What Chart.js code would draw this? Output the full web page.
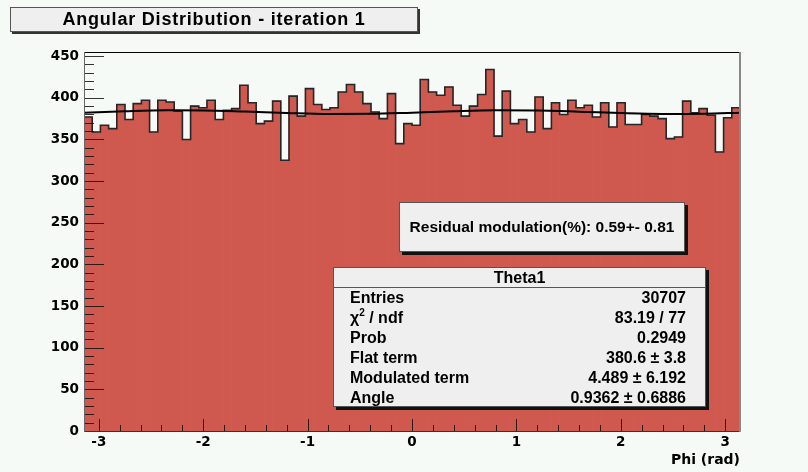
<!DOCTYPE html>
<html>
<head>
<meta charset="utf-8">
<script src="https://cdn.jsdelivr.net/npm/chart.js@4/dist/chart.umd.min.js"></script>
<style>
  html, body { margin:0; padding:0; background:#f5faf7; }
  #wrap { position:relative; width:808px; height:472px; overflow:hidden; }
  #c { position:absolute; left:0; top:0; }
  .box { position:absolute; background:#efefef; border:1px solid #555; box-sizing:border-box;
         font-family:"Liberation Sans", Arial, sans-serif; font-weight:bold; color:#000; }
  #title { left:10px; top:7px; width:408px; height:25px; line-height:23px; text-align:center;
           font-size:18px; letter-spacing:0.8px; box-shadow:2px 2px 0 #333; }
  #resid { left:399px; top:202px; width:286px; height:50px; line-height:48px; text-align:center;
           font-size:15.5px; box-shadow:3px 3px 0 #111; }
  #stats { left:333px; top:267px; width:373px; height:140px; box-shadow:3px 3px 0 #111; font-size:16px; }
  #stats .hdr { height:20px; line-height:19px; text-align:center; border-bottom:1px solid #555; box-sizing:border-box; }
  #stats .row { height:20px; line-height:20px; padding:0 19px 0 16px; display:flex; justify-content:space-between; }
  #stats sup { font-size:10px; line-height:0; vertical-align:7px; }
</style>
</head>
<body>
<div id="wrap">
  <canvas id="c" width="808" height="472"></canvas>
  <div id="title" class="box">Angular Distribution - iteration 1</div>
  <div id="resid" class="box">Residual modulation(%): 0.59+- 0.81</div>
  <div id="stats" class="box"></div>
</div>
<script>
// ---- data ----
const binCounts = [
  377, 359, 367, 363, 392, 374, 393, 397, 359, 397,
  395, 384, 350, 390, 388, 397, 374, 385, 387, 415,
  394, 369, 372, 396, 325, 402, 378, 411, 392, 386,
  388, 407, 416, 407, 393, 383, 375, 405, 345, 369,
  367, 422, 407, 403, 413, 391, 378, 390, 404, 434,
  354, 408, 369, 374, 359, 401, 363, 394, 380, 397,
  388, 391, 377, 394, 365, 394, 368, 368, 380, 378,
  375, 351, 353, 396, 382, 387, 379, 335, 376, 388
];
const xRange = [-Math.PI, Math.PI];
const yRange = [0, 455];
const xMajorTicks = [-3, -2, -1, 0, 1, 2, 3];
const yMajorTicks = [0, 50, 100, 150, 200, 250, 300, 350, 400, 450];
const fitPhi    = [-3.14, -2.75, -2.36, -2.0, -1.6, -1.2, -0.8, -0.4, 0.0, 0.4, 0.8, 1.2, 1.6, 2.0, 2.4, 2.8, 3.14];
const fitValues = [382.2, 383.9, 385.0, 384.9, 383.6, 381.9, 380.7, 380.8, 382.2, 383.9, 385.0, 384.8, 383.4, 381.7, 380.7, 381.0, 382.2];
const statsTitle = 'Theta1';
const statsLabels = ['Entries', 'χ<sup>2</sup> / ndf', 'Prob', 'Flat term', 'Modulated term', 'Angle'];
const statsValues = ['30707', '83.19 / 77', '0.2949', '380.6 ± 3.8', '4.489 ± 6.192', '0.9362 ± 0.6886'];

// ---- stats box ----
const stats = document.getElementById('stats');
let html = '<div class="hdr">' + statsTitle + '</div>';
statsLabels.forEach((l, i) => { html += '<div class="row"><span>' + l + '</span><span>' + statsValues[i] + '</span></div>'; });
stats.innerHTML = html;

// ---- binning ----
const nBins = binCounts.length;
const binW = (xRange[1] - xRange[0]) / nBins;
const barData = binCounts.map((v, i) => ({ x: xRange[0] + (i + 0.5) * binW, y: v }));
const outlineData = [];
for (let i = 0; i <= nBins; i++) outlineData.push({ x: xRange[0] + i * binW, y: binCounts[Math.min(i, nBins - 1)] });
const fitData = fitPhi.map((p, i) => ({ x: p, y: fitValues[i] }));

const axisFont = { family: 'DejaVu Sans', weight: 'bold', size: 13.5 };

const frameTicks = {
  id: 'frameTicks',
  afterDatasetsDraw(chart) {
    const { ctx, chartArea: a, scales: { x, y } } = chart;
    ctx.save();
    const seg = (x1, y1, x2, y2) => { ctx.beginPath(); ctx.moveTo(x1, y1); ctx.lineTo(x2, y2); ctx.stroke(); };
    ctx.lineWidth = 1;
    ctx.strokeStyle = 'rgba(15,15,15,0.85)';
    // x ticks: majors at integers, 4 minors between
    for (let k = -20; k <= 20; k++) {
      const v = k * 0.2;
      if (v < xRange[0] || v > xRange[1]) continue;
      const px = Math.round(x.getPixelForValue(v)) + 0.5;
      const len = (k % 5 === 0) ? 12 : 6;
      seg(px, a.bottom, px, a.bottom - len);
    }
    // y ticks: majors every 50, minors every 10
    for (let v = 0; v <= yRange[1]; v += 10) {
      const py = Math.round(y.getPixelForValue(v)) + 0.5;
      const len = (v % 50 === 0) ? 20 : 10;
      seg(a.left, py, a.left + len, py);
    }
    // frame
    ctx.strokeStyle = '#000';
    seg(a.left, Math.round(a.top) + 0.5, a.right, Math.round(a.top) + 0.5);
    ctx.strokeStyle = '#333';
    seg(a.left, Math.round(a.bottom) + 0.5, a.right, Math.round(a.bottom) + 0.5);
    ctx.strokeStyle = '#666';
    seg(Math.round(a.left) + 0.5, a.top, Math.round(a.left) + 0.5, a.bottom + 1);
    ctx.strokeStyle = '#888'; ctx.lineWidth = 2;
    seg(Math.round(a.right), a.top, Math.round(a.right), a.bottom + 1);
    ctx.restore();
  }
};

new Chart(document.getElementById('c'), {
  type: 'bar',
  data: {
    datasets: [
      { type: 'line', label: 'fit', data: fitData, borderColor: '#000', borderWidth: 2,
        pointRadius: 0, fill: false, cubicInterpolationMode: 'monotone', order: 1 },
      { type: 'line', label: 'outline', data: outlineData, stepped: true, borderColor: '#262626',
        borderWidth: 1.6, pointRadius: 0, fill: false, order: 2 },
      { type: 'bar', label: 'Theta1', data: barData, backgroundColor: '#d0594f', borderWidth: 0,
        barPercentage: 1, categoryPercentage: 1, order: 3 }
    ]
  },
  options: {
    responsive: false,
    animation: false,
    events: [],
    layout: { padding: { top: 52, right: 68, left: 0, bottom: 0 } },
    plugins: { legend: { display: false }, tooltip: { enabled: false }, title: { display: false } },
    scales: {
      x: {
        type: 'linear', min: xRange[0], max: xRange[1], offset: false,
        grid: { display: false, drawTicks: false }, border: { display: false },
        afterBuildTicks(s) { s.ticks = xMajorTicks.map(v => ({ value: v })); },
        ticks: { autoSkip: false, maxRotation: 0, padding: 3, color: '#000', font: axisFont,
                 callback: v => String(v) },
        title: { display: true, text: 'Phi (rad)', align: 'end', color: '#000',
                 font: { family: 'DejaVu Sans', weight: 'bold', size: 14 }, padding: { top: 0, bottom: 3 } },
        afterFit(s) { s.height = 41; }
      },
      y: {
        type: 'linear', min: yRange[0], max: yRange[1],
        grid: { display: false, drawTicks: false }, border: { display: false },
        afterBuildTicks(s) { s.ticks = yMajorTicks.map(v => ({ value: v })); },
        ticks: { autoSkip: false, padding: 5, color: '#000', font: axisFont, callback: v => String(v) },
        afterFit(s) { s.width = 84; }
      }
    }
  },
  plugins: [frameTicks]
});
</script>
</body>
</html>
